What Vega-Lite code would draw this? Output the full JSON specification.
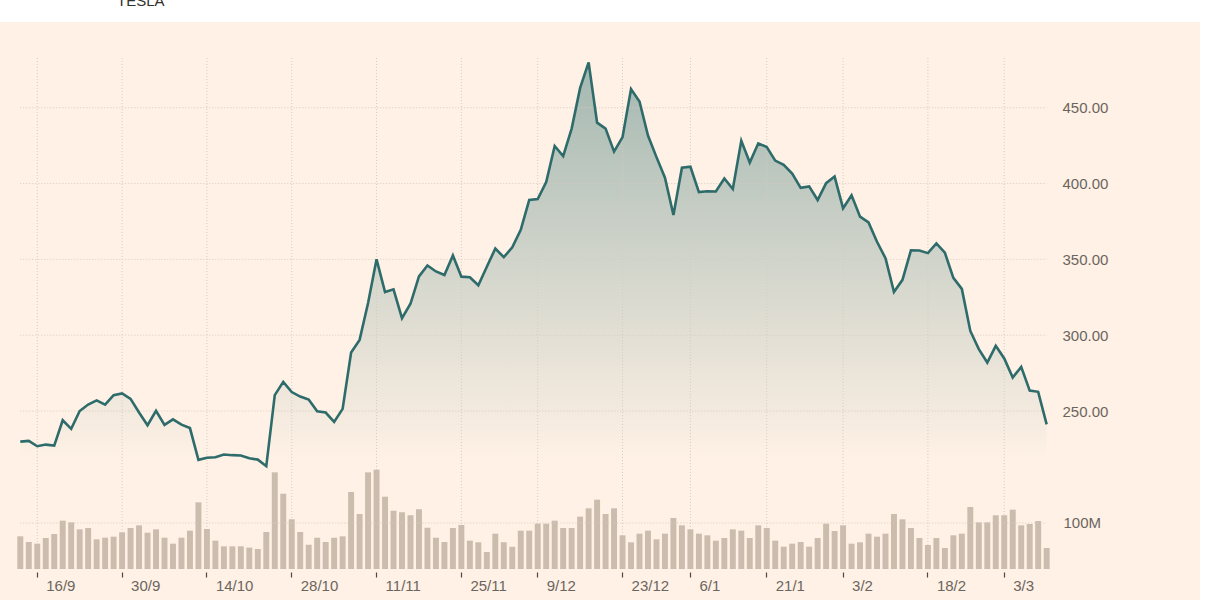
{
  "$schema": "https://vega.github.io/schema/vega-lite/v6.json",
  "width": 1200,
  "height": 578,
  "autosize": {"type": "none"},
  "padding": {"left": 0, "top": 22, "right": 14, "bottom": 0},
  "background": "#ffffff",
  "title": {"text": "TESLA", "anchor": "start", "frame": "group", "dx": 117, "offset": 1, "baseline": "alphabetic", "fontSize": 15, "font": "Liberation Sans", "fontWeight": "normal", "color": "#33302e"},
  "config": {"view": {"fill": "#fff1e5", "stroke": null}, "font": "Liberation Sans"},
  "datasets": {
    "tsla": [
      {"date":"2024-09-12","close":229.81,"vol":71.0},
      {"date":"2024-09-13","close":230.29,"vol":58.7},
      {"date":"2024-09-16","close":226.78,"vol":55.1},
      {"date":"2024-09-17","close":227.87,"vol":67.4},
      {"date":"2024-09-18","close":227.20,"vol":76.1},
      {"date":"2024-09-19","close":243.92,"vol":105.1},
      {"date":"2024-09-20","close":238.25,"vol":101.4},
      {"date":"2024-09-23","close":250.00,"vol":86.2},
      {"date":"2024-09-24","close":254.27,"vol":89.1},
      {"date":"2024-09-25","close":257.02,"vol":64.5},
      {"date":"2024-09-26","close":254.22,"vol":68.1},
      {"date":"2024-09-27","close":260.46,"vol":70.3},
      {"date":"2024-09-30","close":261.63,"vol":79.7},
      {"date":"2024-10-01","close":258.02,"vol":89.1},
      {"date":"2024-10-02","close":249.02,"vol":94.9},
      {"date":"2024-10-03","close":240.66,"vol":79.0},
      {"date":"2024-10-04","close":250.08,"vol":86.2},
      {"date":"2024-10-07","close":240.83,"vol":68.1},
      {"date":"2024-10-08","close":244.50,"vol":55.1},
      {"date":"2024-10-09","close":241.05,"vol":68.1},
      {"date":"2024-10-10","close":238.77,"vol":83.3},
      {"date":"2024-10-11","close":217.80,"vol":144.9},
      {"date":"2024-10-14","close":219.16,"vol":87.0},
      {"date":"2024-10-15","close":219.57,"vol":61.6},
      {"date":"2024-10-16","close":221.33,"vol":49.3},
      {"date":"2024-10-17","close":220.89,"vol":49.3},
      {"date":"2024-10-18","close":220.70,"vol":49.3},
      {"date":"2024-10-21","close":218.85,"vol":46.4},
      {"date":"2024-10-22","close":217.97,"vol":43.5},
      {"date":"2024-10-23","close":213.65,"vol":80.4},
      {"date":"2024-10-24","close":260.48,"vol":210.1},
      {"date":"2024-10-25","close":269.19,"vol":163.8},
      {"date":"2024-10-28","close":262.51,"vol":108.0},
      {"date":"2024-10-29","close":259.52,"vol":80.4},
      {"date":"2024-10-30","close":257.55,"vol":52.9},
      {"date":"2024-10-31","close":249.85,"vol":68.1},
      {"date":"2024-11-01","close":248.98,"vol":58.7},
      {"date":"2024-11-04","close":242.84,"vol":68.1},
      {"date":"2024-11-05","close":251.44,"vol":71.0},
      {"date":"2024-11-06","close":288.53,"vol":167.4},
      {"date":"2024-11-07","close":296.91,"vol":119.6},
      {"date":"2024-11-08","close":321.22,"vol":210.1},
      {"date":"2024-11-11","close":350.00,"vol":215.9},
      {"date":"2024-11-12","close":328.49,"vol":157.2},
      {"date":"2024-11-13","close":330.24,"vol":126.8},
      {"date":"2024-11-14","close":311.18,"vol":123.2},
      {"date":"2024-11-15","close":320.72,"vol":116.7},
      {"date":"2024-11-18","close":338.74,"vol":129.7},
      {"date":"2024-11-19","close":346.00,"vol":89.9},
      {"date":"2024-11-20","close":342.03,"vol":68.1},
      {"date":"2024-11-21","close":339.64,"vol":58.7},
      {"date":"2024-11-22","close":352.56,"vol":89.1},
      {"date":"2024-11-25","close":338.59,"vol":95.6},
      {"date":"2024-11-26","close":338.23,"vol":61.6},
      {"date":"2024-11-27","close":332.89,"vol":58.0},
      {"date":"2024-11-29","close":345.16,"vol":37.0},
      {"date":"2024-12-02","close":357.09,"vol":76.8},
      {"date":"2024-12-03","close":351.42,"vol":58.0},
      {"date":"2024-12-04","close":357.93,"vol":48.5},
      {"date":"2024-12-05","close":369.49,"vol":83.3},
      {"date":"2024-12-06","close":389.22,"vol":83.3},
      {"date":"2024-12-09","close":389.79,"vol":98.5},
      {"date":"2024-12-10","close":400.99,"vol":98.5},
      {"date":"2024-12-11","close":424.77,"vol":105.1},
      {"date":"2024-12-12","close":418.10,"vol":89.1},
      {"date":"2024-12-13","close":436.23,"vol":89.1},
      {"date":"2024-12-16","close":463.02,"vol":113.8},
      {"date":"2024-12-17","close":479.86,"vol":131.9},
      {"date":"2024-12-18","close":440.13,"vol":150.7},
      {"date":"2024-12-19","close":436.17,"vol":119.6},
      {"date":"2024-12-20","close":421.06,"vol":131.9},
      {"date":"2024-12-23","close":430.60,"vol":73.2},
      {"date":"2024-12-24","close":462.28,"vol":58.0},
      {"date":"2024-12-26","close":454.13,"vol":76.8},
      {"date":"2024-12-27","close":431.66,"vol":83.3},
      {"date":"2024-12-30","close":417.41,"vol":64.5},
      {"date":"2024-12-31","close":403.84,"vol":76.8},
      {"date":"2025-01-02","close":379.28,"vol":110.9},
      {"date":"2025-01-03","close":410.44,"vol":94.9},
      {"date":"2025-01-06","close":411.05,"vol":86.2},
      {"date":"2025-01-07","close":394.36,"vol":76.8},
      {"date":"2025-01-08","close":394.94,"vol":73.2},
      {"date":"2025-01-10","close":394.74,"vol":61.6},
      {"date":"2025-01-13","close":403.31,"vol":67.4},
      {"date":"2025-01-14","close":396.36,"vol":86.2},
      {"date":"2025-01-15","close":428.22,"vol":83.3},
      {"date":"2025-01-16","close":413.82,"vol":67.4},
      {"date":"2025-01-17","close":426.50,"vol":94.9},
      {"date":"2025-01-21","close":424.07,"vol":89.1},
      {"date":"2025-01-22","close":415.11,"vol":61.6},
      {"date":"2025-01-23","close":412.38,"vol":48.5},
      {"date":"2025-01-24","close":406.58,"vol":55.1},
      {"date":"2025-01-27","close":397.15,"vol":58.7},
      {"date":"2025-01-28","close":398.09,"vol":48.5},
      {"date":"2025-01-29","close":389.10,"vol":67.4},
      {"date":"2025-01-30","close":400.28,"vol":98.5},
      {"date":"2025-01-31","close":404.60,"vol":82.6},
      {"date":"2025-02-03","close":383.68,"vol":94.9},
      {"date":"2025-02-04","close":392.21,"vol":55.1},
      {"date":"2025-02-05","close":378.17,"vol":58.0},
      {"date":"2025-02-06","close":374.32,"vol":76.8},
      {"date":"2025-02-07","close":361.62,"vol":70.3},
      {"date":"2025-02-10","close":350.73,"vol":76.8},
      {"date":"2025-02-11","close":328.50,"vol":119.6},
      {"date":"2025-02-12","close":336.51,"vol":108.0},
      {"date":"2025-02-13","close":355.94,"vol":89.1},
      {"date":"2025-02-14","close":355.84,"vol":67.4},
      {"date":"2025-02-18","close":354.11,"vol":52.2},
      {"date":"2025-02-19","close":360.56,"vol":67.4},
      {"date":"2025-02-20","close":354.40,"vol":45.6},
      {"date":"2025-02-21","close":337.80,"vol":73.2},
      {"date":"2025-02-24","close":330.53,"vol":76.8},
      {"date":"2025-02-25","close":302.80,"vol":134.8},
      {"date":"2025-02-26","close":290.80,"vol":101.4},
      {"date":"2025-02-27","close":281.95,"vol":101.4},
      {"date":"2025-02-28","close":292.98,"vol":116.7},
      {"date":"2025-03-03","close":284.65,"vol":116.7},
      {"date":"2025-03-04","close":272.04,"vol":129.0},
      {"date":"2025-03-05","close":279.10,"vol":94.9},
      {"date":"2025-03-06","close":263.45,"vol":97.8},
      {"date":"2025-03-07","close":262.67,"vol":104.3},
      {"date":"2025-03-10","close":241.20,"vol":45.6}
    ],
    "levels": [{"p":250},{"p":300},{"p":350},{"p":400},{"p":450}],
    "vlevels": [{"v":100}]
  },
  "data": {"name": "tsla"},
  "layer": [
    {
      "layer": [
        {
          "mark": {"type": "area", "fill": {"gradient": "linear", "x1": 0, "y1": 0, "x2": 0, "y2": 1, "stops": [{"offset": 0, "color": "rgba(47,111,110,0.44)"}, {"offset": 0.94, "color": "rgba(47,111,110,0)"}]}},
          "encoding": {
            "x": {"field": "date", "type": "ordinal", "scale": {"type": "band"}},
            "y": {"field": "close", "type": "quantitative", "scale": {"domain": [125.4, 506.5], "zero": false, "nice": false},
                  "axis": {"orient": "right", "offset": -138, "domain": false, "ticks": false, "grid": false, "labelPadding": 0, "values": [250, 300, 350, 400, 450], "format": ".2f", "labelColor": "#6b6560", "labelFontSize": 15, "labelFont": "Liberation Sans", "title": null}},
            "y2": {"datum": 200}
          }
        },
        {
          "transform": [{"filter": {"field": "date", "oneOf": ["2024-09-16","2024-09-30","2024-10-14","2024-10-28","2024-11-11","2024-11-25","2024-12-09","2024-12-23","2025-01-06","2025-01-21","2025-02-03","2025-02-18","2025-03-03"]}}],
          "mark": {"type": "rule", "color": "#d6cbc0", "strokeDash": [1, 2], "strokeWidth": 1},
          "encoding": {
            "x": {"field": "date", "type": "ordinal"},
            "y": {"datum": 482.8, "type": "quantitative"},
            "y2": {"datum": 145.8}
          }
        },
        {
          "data": {"name": "levels"},
          "mark": {"type": "rule", "color": "#d6cbc0", "strokeDash": [1, 2], "strokeWidth": 1},
          "encoding": {
            "y": {"field": "p", "type": "quantitative"},
            "x": {"datum": "2024-09-12", "type": "ordinal"},
            "x2": {"datum": "2025-03-10"}
          }
        },
        {
          "mark": {"type": "line", "color": "#2e6b6b", "strokeWidth": 2.6},
          "encoding": {
            "x": {"field": "date", "type": "ordinal"},
            "y": {"field": "close", "type": "quantitative"}
          }
        }
      ]
    },
    {
      "layer": [
        {
          "mark": {"type": "bar", "color": "#cbbcad"},
          "encoding": {
            "x": {"field": "date", "type": "ordinal",
                  "scale": {"type": "band", "range": [16.06, 1050.9], "paddingInner": 0.3, "paddingOuter": 0.15},
                  "axis": {"orient": "bottom", "offset": -28, "domain": false, "ticks": true, "tickSize": 5, "tickColor": "#4d4845", "tickWidth": 1.2, "grid": false, "labelPadding": 8, "labelAlign": "left", "labelOffset": 9, "labelColor": "#6b6560", "labelFontSize": 15, "labelFont": "Liberation Sans", "labelAngle": 0, "labelOverlap": false, "title": null,
                           "values": ["2024-09-16","2024-09-30","2024-10-14","2024-10-28","2024-11-11","2024-11-25","2024-12-09","2024-12-23","2025-01-06","2025-01-21","2025-02-03","2025-02-18","2025-03-03"],
                           "labelExpr": "parseInt(substring(datum.value,8,10)) + '/' + parseInt(substring(datum.value,5,7))"}},
            "y": {"field": "vol", "type": "quantitative", "scale": {"domain": [-67.4, 1189.1], "zero": false, "nice": false},
                  "axis": {"orient": "left", "offset": -1063, "domain": false, "ticks": false, "grid": false, "labelPadding": 0, "labelAlign": "left", "values": [100], "labelExpr": "datum.value + 'M'", "labelColor": "#6b6560", "labelFontSize": 15, "labelFont": "Liberation Sans", "title": null}}
          }
        },
        {
          "data": {"name": "vlevels"},
          "mark": {"type": "rule", "color": "#d6cbc0", "strokeDash": [1, 2], "strokeWidth": 1},
          "encoding": {
            "y": {"field": "v", "type": "quantitative"},
            "x": {"datum": "2024-09-12", "type": "ordinal"},
            "x2": {"datum": "2025-03-10"}
          }
        }
      ]
    }
  ],
  "resolve": {"scale": {"y": "independent"}}
}
